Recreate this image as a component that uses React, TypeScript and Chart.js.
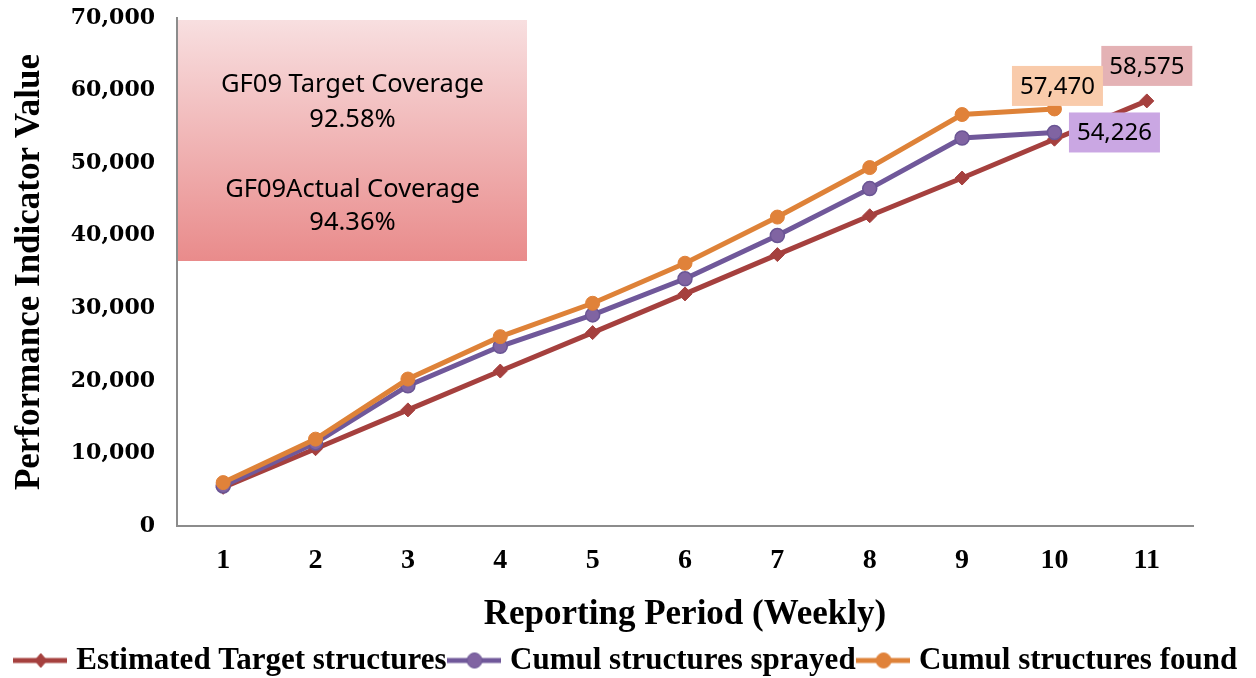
import React, { useEffect, useRef } from 'react';
import { Chart, registerables } from 'chart.js';

Chart.register(...registerables);

// ---- data ----
const periods = ['1', '2', '3', '4', '5', '6', '7', '8', '9', '10', '11'];
const targetStructures = [5330, 10650, 16000, 21350, 26650, 31980, 37400, 42750, 47950, 53300, 58575];
const sprayedStructures = [5520, 11450, 19330, 24760, 29090, 34060, 40040, 46490, 53470, 54226, null];
const foundStructures = [5980, 11970, 20250, 26090, 30690, 36210, 42570, 49390, 56700, 57470, null];
const seriesLabels = ['Estimated Target structures', 'Cumul structures sprayed', 'Cumul structures found'];
const coverageText = ['GF09 Target Coverage', '92.58%', 'GF09Actual Coverage', '94.36%'];
const yMin = 0;
const yMax = 70000;
const yStep = 10000;

// ---- styles ----
const RED = '#a5403e';
const PURPLE_LINE = '#70589a';
const PURPLE_FILL = '#8064a2';
const ORANGE_LINE = '#de8238';
const ORANGE_FILL = '#e0823a';
const LABEL_BG = ['#e4b2b5', '#caa7e3', '#f9cbab'];
const SERIF = '"Liberation Serif", "Times New Roman", serif';
const SANS = '"Noto Sans", "Open Sans", sans-serif';

function makeIcon(line: string, fill: string, border: string, shape: 'diamond' | 'circle') {
  const c = document.createElement('canvas');
  c.width = 54;
  c.height = 18;
  const g = c.getContext('2d')!;
  g.strokeStyle = line;
  g.lineWidth = 5;
  g.beginPath();
  g.moveTo(0, 9);
  g.lineTo(54, 9);
  g.stroke();
  g.fillStyle = fill;
  g.strokeStyle = border;
  g.lineWidth = 1;
  g.beginPath();
  if (shape === 'diamond') {
    g.moveTo(28, 2);
    g.lineTo(34, 9);
    g.lineTo(28, 16);
    g.lineTo(22, 9);
    g.closePath();
  } else {
    g.arc(28, 9, 7.5, 0, Math.PI * 2);
  }
  g.fill();
  g.stroke();
  return c;
}

const annotationPlugin = {
  id: 'annotations',
  beforeDatasetsDraw(chart: any) {
    const { ctx, chartArea } = chart;
    const x0 = chartArea.left + 1;
    const y0 = chartArea.top + 2;
    const w = 349;
    const h = 241;
    ctx.save();
    const grad = ctx.createLinearGradient(0, y0, 0, y0 + h);
    grad.addColorStop(0, '#f8dfe0');
    grad.addColorStop(1, '#e98b8b');
    ctx.fillStyle = grad;
    ctx.fillRect(x0, y0, w, h);
    ctx.fillStyle = '#000';
    ctx.font = '25.5px ' + SANS;
    ctx.textAlign = 'center';
    ctx.textBaseline = 'middle';
    const offs = [65, 100, 170, 203];
    coverageText.forEach((t, i) => ctx.fillText(t, x0 + w / 2, y0 + offs[i]));
    ctx.restore();
  },
  afterDatasetsDraw(chart: any) {
    const { ctx } = chart;
    const shifts = [
      [0, -35],
      [60, 0],
      [3, -23],
    ];
    ctx.save();
    ctx.font = '24px ' + SANS;
    ctx.textAlign = 'center';
    ctx.textBaseline = 'middle';
    chart.data.datasets.forEach((ds: any, i: number) => {
      const meta = chart.getDatasetMeta(i);
      let last = -1;
      ds.data.forEach((v: any, j: number) => {
        if (v !== null && v !== undefined) last = j;
      });
      if (last < 0) return;
      const pt = meta.data[last];
      const cx = pt.x + shifts[i][0];
      const cy = pt.y + shifts[i][1];
      ctx.fillStyle = LABEL_BG[i];
      ctx.fillRect(cx - 45.5, cy - 20, 91, 40);
      ctx.fillStyle = '#000';
      ctx.fillText(Number(ds.data[last]).toLocaleString('en-US'), cx, cy + 1);
    });
    ctx.restore();
  },
};

export default function App() {
  const ref = useRef<HTMLCanvasElement>(null);

  useEffect(() => {
    const canvas = ref.current;
    if (!canvas) return;
    const icons = [
      makeIcon(RED, RED, RED, 'diamond'),
      makeIcon(PURPLE_LINE, PURPLE_FILL, '#6a5594', 'circle'),
      makeIcon(ORANGE_LINE, ORANGE_FILL, ORANGE_FILL, 'circle'),
    ];
    const chart = new Chart(canvas, {
      type: 'line',
      data: {
        labels: periods,
        datasets: [
          {
            label: seriesLabels[0],
            data: targetStructures,
            borderColor: RED,
            backgroundColor: RED,
            borderWidth: 5,
            pointStyle: 'rectRot',
            pointRadius: 7,
            pointBackgroundColor: RED,
            pointBorderColor: RED,
            pointBorderWidth: 1,
            order: 3,
          },
          {
            label: seriesLabels[1],
            data: sprayedStructures,
            borderColor: PURPLE_LINE,
            backgroundColor: PURPLE_FILL,
            borderWidth: 5,
            pointStyle: 'circle',
            pointRadius: 7,
            pointBackgroundColor: PURPLE_FILL,
            pointBorderColor: '#6a5594',
            pointBorderWidth: 1.5,
            order: 2,
          },
          {
            label: seriesLabels[2],
            data: foundStructures,
            borderColor: ORANGE_LINE,
            backgroundColor: ORANGE_FILL,
            borderWidth: 5,
            pointStyle: 'circle',
            pointRadius: 7,
            pointBackgroundColor: ORANGE_FILL,
            pointBorderColor: ORANGE_FILL,
            pointBorderWidth: 1,
            order: 1,
          },
        ] as any,
      },
      options: {
        responsive: true,
        maintainAspectRatio: false,
        animation: false,
        layout: { padding: { top: 18, left: 0, right: 0, bottom: -8 } },
        plugins: {
          tooltip: { enabled: false },
          legend: {
            position: 'bottom',
            labels: {
              usePointStyle: true,
              pointStyleWidth: 42,
              padding: 6,
              color: '#000',
              font: { family: SERIF, size: 31, weight: 'bold' },
              generateLabels: (c: any) =>
                c.data.datasets.map((ds: any, i: number) => ({
                  text: ds.label,
                  pointStyle: icons[i],
                  fillStyle: 'transparent',
                  strokeStyle: 'transparent',
                  lineWidth: 0,
                  hidden: false,
                  datasetIndex: i,
                })),
            },
          },
        },
        scales: {
          x: {
            offset: true,
            grid: { display: false, drawTicks: false },
            border: { display: true, color: '#8c8c8c', width: 2 },
            ticks: { color: '#000', padding: 18, font: { family: SERIF, size: 28, weight: 'bold' } },
            title: {
              display: true,
              text: 'Reporting Period (Weekly)',
              color: '#000',
              padding: { top: 0, bottom: 3 },
              font: { family: SERIF, size: 35, weight: 'bold' },
            },
            afterFit: (s: any) => {
              s.height = 113;
            },
          },
          y: {
            min: yMin,
            max: yMax,
            grid: { display: false, drawTicks: false },
            border: { display: true, color: '#8c8c8c', width: 2 },
            ticks: {
              stepSize: yStep,
              color: '#000',
              padding: 22,
              font: { family: '"DejaVu Serif", serif', size: 22, weight: 'bold' },
              callback: (v: any) => Number(v).toLocaleString('en-US'),
            },
            title: {
              display: true,
              text: 'Performance Indicator Value',
              color: '#000',
              padding: { top: 9, bottom: 0 },
              font: { family: SERIF, size: 35, weight: 'bold' },
            },
            afterFit: (s: any) => {
              s.width = 177;
              s.paddingTop = 0;
              s.paddingBottom = 0;
            },
          },
          yRight: {
            position: 'right',
            display: true,
            grid: { display: false, drawTicks: false },
            border: { display: false },
            ticks: { display: false },
            afterFit: (s: any) => {
              s.width = 63;
              s.paddingTop = 0;
              s.paddingBottom = 0;
            },
          },
        },
      } as any,
      plugins: [annotationPlugin],
    });
    return () => chart.destroy();
  }, []);

  return (
    <div style={{ position: 'absolute', left: 0, top: 0, width: 1256, height: 678, background: '#fff' }}>
      <canvas ref={ref} />
    </div>
  );
}
